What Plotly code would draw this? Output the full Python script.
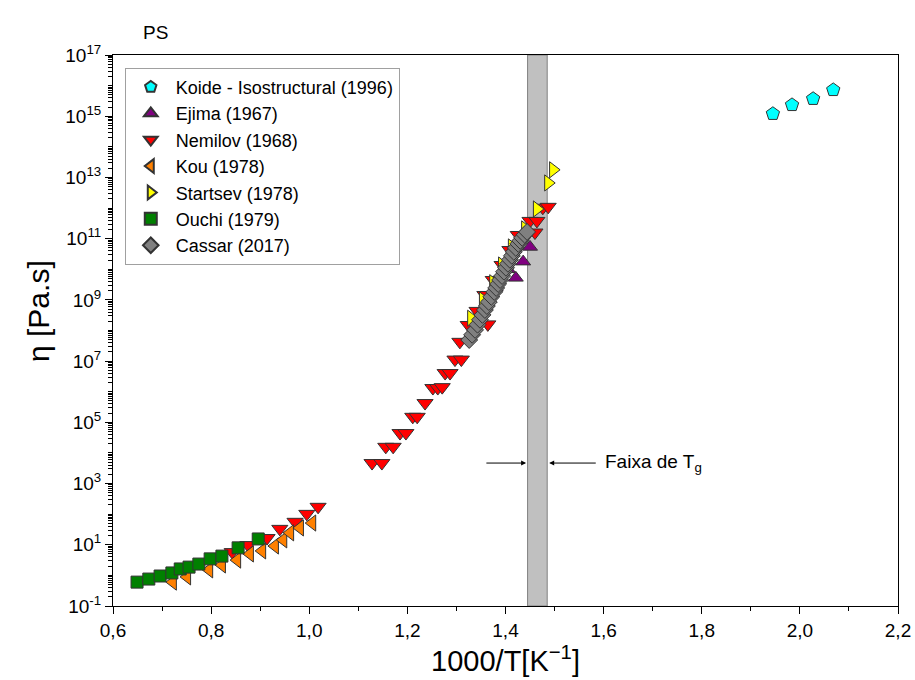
import plotly.graph_objects as go

# ---- data (x = 1000/T [1/K], log10 of viscosity [Pa.s]) ----
koide_x = [1.945, 1.984, 2.027, 2.068]
koide_log = [15.08, 15.37, 15.57, 15.86]

ejima_x = [1.380, 1.405, 1.421, 1.436, 1.450]
ejima_log = [9.40, 10.00, 9.72, 10.25, 10.73]

nemilov_x = [0.843, 0.875, 0.914, 0.940, 0.971, 0.995, 1.018,
             1.128, 1.148, 1.156, 1.171, 1.185, 1.197, 1.211, 1.220,
             1.236, 1.252, 1.262, 1.271, 1.277, 1.287, 1.297, 1.310,
             1.307, 1.324, 1.342, 1.358, 1.364, 1.375, 1.393, 1.409,
             1.426, 1.450, 1.460, 1.464, 1.476, 1.487]
nemilov_log = [0.76, 0.99, 1.22, 1.52, 1.75, 2.01, 2.24,
               3.67, 3.67, 4.20, 4.20, 4.65, 4.65, 5.18, 5.18,
               5.63, 6.12, 6.12, 6.15, 6.61, 6.61, 7.05, 7.05,
               7.63, 8.18, 8.64, 9.16, 8.20, 9.65, 10.14, 10.63,
               11.12, 11.58, 11.20, 11.58, 12.01, 12.04]

kou_x = [0.722, 0.751, 0.796, 0.822, 0.853, 0.879, 0.904, 0.930, 0.947, 0.961, 0.981, 1.006]
kou_log = [-0.22, -0.05, 0.18, 0.34, 0.50, 0.70, 0.80, 0.96, 1.16, 1.39, 1.55, 1.71]

startsev_x = [1.330, 1.354, 1.375, 1.393, 1.413, 1.440, 1.464, 1.487, 1.497]
startsev_log = [8.40, 9.00, 9.56, 10.14, 10.73, 11.32, 11.97, 12.82, 13.25]

ouchi_x = [0.649, 0.673, 0.696, 0.720, 0.737, 0.755, 0.775, 0.798, 0.822, 0.855, 0.896]
ouchi_log = [-0.22, -0.12, -0.02, 0.08, 0.21, 0.27, 0.37, 0.54, 0.63, 0.90, 1.19]

cassar_x = [1.326, 1.332, 1.338, 1.343, 1.348, 1.353, 1.358, 1.362, 1.366, 1.371,
            1.377, 1.381, 1.385, 1.389, 1.393, 1.397, 1.401, 1.405, 1.409, 1.413,
            1.417, 1.421, 1.426, 1.430, 1.434, 1.439, 1.444]
cassar_log = [7.69, 7.86, 8.02, 8.19, 8.35, 8.51, 8.67, 8.80, 8.93, 9.10,
              9.26, 9.39, 9.52, 9.65, 9.78, 9.92, 10.05, 10.18, 10.31, 10.44,
              10.57, 10.70, 10.83, 10.93, 11.03, 11.13, 11.22]

tg_band = [1.445, 1.485]

y_exponents = [-1, 1, 3, 5, 7, 9, 11, 13, 15, 17]
y_ticktext = ["10<sup>%d</sup>" % e for e in y_exponents]
x_ticks = [0.6, 0.8, 1.0, 1.2, 1.4, 1.6, 1.8, 2.0, 2.2]
x_ticktext = ["0,6", "0,8", "1,0", "1,2", "1,4", "1,6", "1,8", "2,0", "2,2"]

series = [
    ("Koide - Isostructural (1996)", koide_x, koide_log, "pentagon", "#00ffff", 14),
    ("Ejima (1967)", ejima_x, ejima_log, "triangle-up", "#800080", 13),
    ("Nemilov (1968)", nemilov_x, nemilov_log, "triangle-down", "#ff0000", 14),
    ("Kou (1978)", kou_x, kou_log, "triangle-left", "#ff8000", 14),
    ("Startsev (1978)", startsev_x, startsev_log, "triangle-right", "#ffff00", 14),
    ("Ouchi (1979)", ouchi_x, ouchi_log, "square", "#008000", 12),
    ("Cassar (2017)", cassar_x, cassar_log, "diamond", "#808080", 13),
]

fig = go.Figure()
for name, xs, logs, sym, col, sz in series:
    fig.add_trace(go.Scatter(
        x=xs, y=[10 ** v for v in logs], mode="markers", name=name,
        marker=dict(symbol=sym, color=col, size=sz,
                    line=dict(color="#333333", width=1)),
    ))

fig.add_shape(type="rect", xref="x", yref="paper",
              x0=tg_band[0], x1=tg_band[1], y0=0, y1=1,
              fillcolor="#c0c0c0", line=dict(color="#808080", width=1),
              layer="below")

# Tg arrows and label
fig.add_annotation(x=1.442, y=3.67, ax=1.358, ay=3.67, xref="x", yref="y",
                   axref="x", ayref="y", text="", showarrow=True,
                   arrowhead=2, arrowsize=1, arrowwidth=1, arrowcolor="black")
fig.add_annotation(x=1.489, y=3.67, ax=1.587, ay=3.67, xref="x", yref="y",
                   axref="x", ayref="y", text="", showarrow=True,
                   arrowhead=2, arrowsize=1, arrowwidth=1, arrowcolor="black")
fig.add_annotation(x=1.598, y=3.67, xref="x", yref="y", text="Faixa de T<sub>g</sub>",
                   showarrow=False, xanchor="left", yanchor="middle",
                   font=dict(size=19, color="black"))

fig.add_annotation(x=(155 - 113) / 785, y=1.0, xref="paper", yref="paper",
                   text="PS", showarrow=False, xanchor="center", yanchor="bottom",
                   yshift=10, font=dict(size=19, color="black"))

# y-axis title placed as rotated text
fig.add_annotation(x=(38 - 113) / 785, y=(606 - 311) / 551, xref="paper", yref="paper",
                   text="\u03b7 [Pa.s]", textangle=-90, showarrow=False,
                   xanchor="center", yanchor="middle",
                   font=dict(size=30, color="black"))

minor_y = []
for d in range(-1, 17):
    for m in range(1, 10):
        if m == 1 and (d + 1) % 2 == 0:
            continue
        minor_y.append(m * 10 ** d)

fig.update_layout(
    width=915, height=680,
    margin=dict(l=113, r=17, t=55, b=74),
    paper_bgcolor="white", plot_bgcolor="white",
    font=dict(family="Liberation Sans, Arial, sans-serif", color="black"),
    showlegend=True,
    legend=dict(x=0.015, y=0.977, xanchor="left", yanchor="top",
                bgcolor="white", bordercolor="#a0a0a0", borderwidth=1,
                font=dict(size=18), itemsizing="constant", itemwidth=40,
                tracegroupgap=0),
    xaxis=dict(range=[0.6, 2.2], tickmode="array", tickvals=x_ticks, ticktext=x_ticktext,
               automargin=False,
               showgrid=False, zeroline=False, showline=True,
               linecolor="black", linewidth=1, mirror=True,
               ticks="outside", ticklen=7, tickcolor="black",
               tickfont=dict(size=19),
               minor=dict(dtick=0.1, tick0=0.6, ticks="outside", ticklen=4, tickcolor="black"),
               title=dict(text="1000/T[K<sup>\u22121</sup>]", font=dict(size=29), standoff=8)),
    yaxis=dict(type="log", range=[-1, 17], tickmode="array",
               tickvals=[10 ** e for e in y_exponents], ticktext=y_ticktext,
               automargin=False,
               showgrid=False, zeroline=False,
               showline=True, linecolor="black", linewidth=1, mirror=True,
               ticks="outside", ticklen=7, tickcolor="black",
               tickfont=dict(size=19),
               minor=dict(tickmode="array", tickvals=minor_y, ticks="outside",
                          ticklen=4, tickcolor="black")),
)

fig.write_html("out.html")
